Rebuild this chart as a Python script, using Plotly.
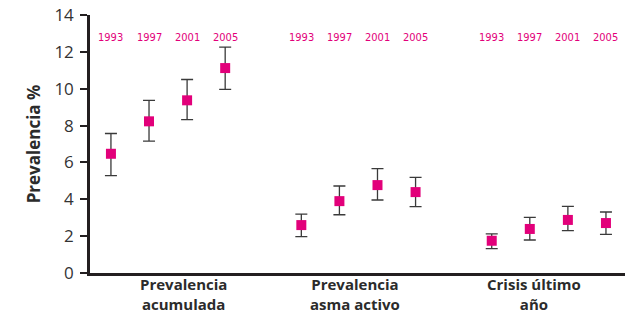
import plotly.graph_objects as go

categories = ["Prevalencia<br>acumulada", "Prevalencia<br>asma activo", "Crisis último<br>año"]
years = ["1993", "1997", "2001", "2005"]
# values per category (rows) and year (columns)
values = [
    [6.47, 8.23, 9.37, 11.12],
    [2.60, 3.90, 4.77, 4.39],
    [1.75, 2.39, 2.88, 2.71],
]
upper = [
    [7.57, 9.37, 10.50, 12.26],
    [3.20, 4.72, 5.66, 5.19],
    [2.12, 3.02, 3.61, 3.31],
]
lower = [
    [5.28, 7.16, 8.32, 9.96],
    [1.97, 3.16, 3.96, 3.60],
    [1.32, 1.79, 2.30, 2.10],
]
cat_label_pos = [0.38, 1.28, 2.22]
year_label_y = 12.8
y_ticks = [0, 2, 4, 6, 8, 10, 12, 14]

MAG = "#E2007A"
DARK = "#231F20"

xs, ys, eplus, eminus, labels = [], [], [], [], []
for i in range(len(categories)):
    for j, yr in enumerate(years):
        xs.append(i + 0.2 * j)
        ys.append(values[i][j])
        eplus.append(upper[i][j] - values[i][j])
        eminus.append(values[i][j] - lower[i][j])
        labels.append(yr)

fig = go.Figure()
fig.add_trace(go.Scatter(
    x=xs, y=ys, mode="markers",
    marker=dict(symbol="square", size=10, color=MAG),
    error_y=dict(type="data", symmetric=False, array=eplus, arrayminus=eminus,
                 color="#3a3a3a", thickness=1.3, width=6),
    showlegend=False, cliponaxis=False,
))
for x, lab in zip(xs, labels):
    fig.add_annotation(x=x, y=year_label_y, text=lab, showarrow=False,
                       font=dict(family="DejaVu Sans Condensed", size=11, color=MAG))

for x, cat in zip(cat_label_pos, categories):
    fig.add_annotation(x=x, xref="x", y=0, yref="paper", yanchor="bottom", borderpad=0,
                       yshift=-41.5, text="<b>" + cat + "</b>", showarrow=False,
                       font=dict(size=15, color="#2b2b2b", family="Open Sans, Noto Sans, sans-serif"))

fig.update_layout(
    width=633, height=315,
    margin=dict(l=90, r=8, t=15, b=42),
    plot_bgcolor="white", paper_bgcolor="white",
    font=dict(family="Open Sans, Noto Sans, sans-serif", color="#333333"),
)
fig.update_xaxes(
    range=[-0.11, 2.70], showgrid=False, zeroline=False, automargin=False,
    showline=True, linecolor=DARK, linewidth=2.5,
    showticklabels=False, ticks="",
)
fig.update_yaxes(
    range=[0, 14], tickvals=y_ticks, showgrid=False, zeroline=False, automargin=False,
    showline=True, linecolor=DARK, linewidth=2.5,
    ticks="outside", ticklen=7, tickwidth=2, tickcolor=DARK, ticklabelstandoff=3,
    tickfont=dict(size=17, color="#333333"),
    title=dict(text="<b>Prevalencia %</b>", font=dict(size=17, color="#2b2b2b"), standoff=10),
)
fig.write_html("out.html", config={"displayModeBar": False},
               post_script="document.body.style.margin='0';document.body.style.overflow='hidden';")
